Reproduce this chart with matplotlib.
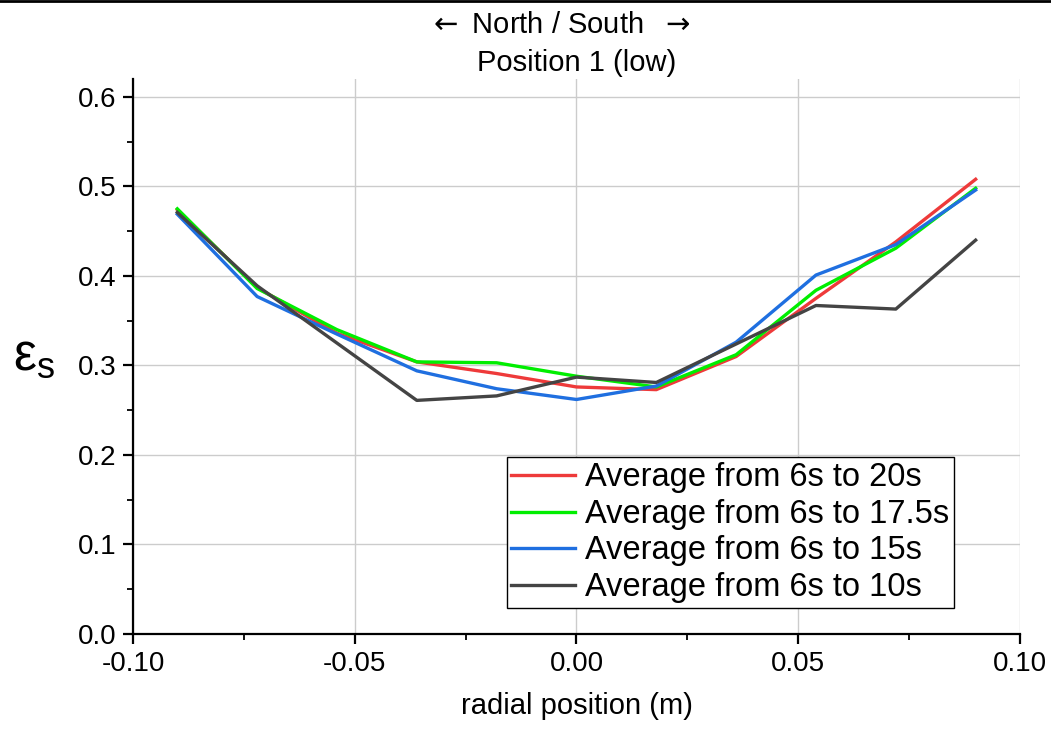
import matplotlib.pyplot as plt
from matplotlib.lines import Line2D
from matplotlib.ticker import MultipleLocator

plt.rcParams['font.family'] = ['Liberation Sans', 'DejaVu Sans']
plt.rcParams['mathtext.fontset'] = 'dejavusans'

# radial positions (m)
radial_pos = [-0.09, -0.072, -0.054, -0.036, -0.018, 0.0, 0.018, 0.036, 0.054, 0.072, 0.09]

# solids fraction averaged over different time windows
avg_6_20 = [0.474, 0.387, 0.336, 0.304, 0.291, 0.276, 0.273, 0.310, 0.375, 0.438, 0.508]
avg_6_17_5 = [0.475, 0.386, 0.340, 0.304, 0.303, 0.288, 0.276, 0.312, 0.384, 0.431, 0.498]
avg_6_15 = [0.469, 0.377, 0.335, 0.294, 0.274, 0.262, 0.277, 0.326, 0.401, 0.435, 0.496]
avg_6_10 = [0.471, 0.389, 0.325, 0.261, 0.266, 0.287, 0.281, 0.324, 0.367, 0.363, 0.440]

labels = ['Average from 6s to 20s', 'Average from 6s to 17.5s',
          'Average from 6s to 15s', 'Average from 6s to 10s']
colors = ['#ee3a3a', '#00ee00', '#1f6fe0', '#444444']

fig = plt.figure(figsize=(10.51, 7.29), dpi=100)
ax = fig.add_axes([0.1265, 0.1303, 0.8440, 0.7613])

for series, lab, col in zip([avg_6_20, avg_6_17_5, avg_6_15, avg_6_10], labels, colors):
    ax.plot(radial_pos, series, color=col, lw=2.4, label=lab)

ax.set_xlim(-0.10, 0.10)
ax.set_ylim(0, 0.62)
ax.xaxis.set_minor_locator(MultipleLocator(0.025))
ax.yaxis.set_minor_locator(MultipleLocator(0.05))
ax.set_xticks([-0.10, -0.05, 0.0, 0.05, 0.10])
ax.set_xticklabels(['-0.10', '-0.05', '0.00', '0.05', '0.10'])
ax.set_yticks([0.0, 0.1, 0.2, 0.3, 0.4, 0.5, 0.6])
ax.set_yticklabels(['0.0', '0.1', '0.2', '0.3', '0.4', '0.5', '0.6'])

ax.grid(True, which='major', color='#cccccc', lw=1)
ax.set_axisbelow(True)
for s in ['top', 'right']:
    ax.spines[s].set_visible(False)
for s in ['left', 'bottom']:
    ax.spines[s].set_linewidth(1.6)
ax.tick_params(which='major', direction='out', length=7, width=1.6, labelsize=20, pad=5)
ax.tick_params(which='minor', direction='out', length=4, width=1.3)

ax.set_xlabel('radial position (m)', fontsize=21, labelpad=11)
ax.set_ylabel('ε$_\\mathregular{s}$', fontsize=37, rotation=0, va='center')
ax.yaxis.set_label_coords(-0.111, 0.50)

# two-line heading: direction hint above the position name
ax.set_title('Position 1 (low)', fontsize=21, pad=6)
ax.text(0.48, 1.0 + 54 / 555, r'$\leftarrow$ North / South  $\rightarrow$',
        transform=ax.transAxes, ha='center', va='center', fontsize=21)

leg = ax.legend(loc='lower right', bbox_to_anchor=(0.9255, 0.047), fontsize=23.5,
                frameon=True, fancybox=False, framealpha=1, edgecolor='black',
                handlelength=1.95, handletextpad=0.3, labelspacing=0.17,
                borderpad=0.15, borderaxespad=0)
leg.get_frame().set_linewidth(1.0)

# thin rule along the top of the figure
fig.add_artist(Line2D([0, 1], [0.998, 0.998], color='black', lw=2, transform=fig.transFigure))

plt.savefig('out.png', dpi=100)
plt.close()
